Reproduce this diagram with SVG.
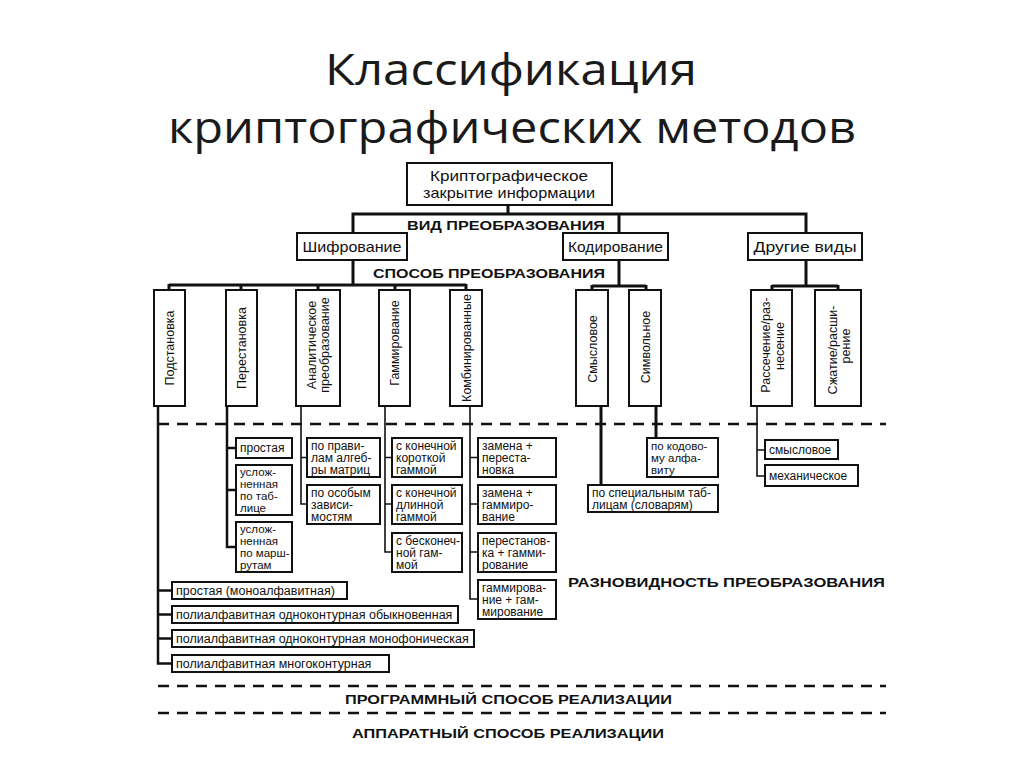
<svg xmlns="http://www.w3.org/2000/svg" width="1024" height="767" viewBox="0 0 1024 767">
<style>
.bx{fill:#fff;stroke:#111;stroke-width:2}
.t{font-family:"Liberation Sans",Arial,sans-serif;fill:#111}
.m{font-size:14.5px;text-anchor:middle}
.v{font-size:12.5px;text-anchor:middle}
.s{font-size:12px}
.q{font-size:11.5px}
.l{font-size:12.5px}
.h{font-family:"Liberation Sans",Arial,sans-serif;font-weight:bold;font-size:13.5px;fill:#111;text-anchor:middle}
.ttl{font-family:"Open Sans","Liberation Sans",sans-serif;font-size:44px;fill:#1a1a1a;text-anchor:middle}
.c{fill:none;stroke:#111;stroke-width:3}
.c2{fill:none;stroke:#111;stroke-width:2.5}
.c1{fill:none;stroke:#111;stroke-width:1.6}
.d{fill:none;stroke:#111;stroke-width:2.5;stroke-dasharray:11 8}
</style>
<rect width="1024" height="767" fill="#fff"/>
<g id="title">
<text class="ttl" x="511" y="85" textLength="372" lengthAdjust="spacingAndGlyphs">Классификация</text>
<text class="ttl" x="512" y="143" textLength="688" lengthAdjust="spacingAndGlyphs">криптографических методов</text>
</g>
<g id="connectors">
<path class="c" d="M508 205V214M353 214H806M353 212.5V233M619 212.5V233M806 212.5V233"/>
<path class="c" d="M353 261V285M169 285H466M169 284V290M241 284V290M318 284V290M395 284V290M466 284V290"/>
<path class="c" d="M619 260V286M592 286H646M592 285V290M646 285V290"/>
<path class="c" d="M806 260V286M772 286H838M772 285V290M838 285V290"/>
<path class="c2" d="M158 406V663.5H172M158 590.5H172M158 614.5H172M158 638.5H172"/>
<path class="c2" d="M227 406V547H236M227 448H236M227 490H236"/>
<path class="c1" d="M301 406V504H307M301 457.5H307"/>
<path class="c1" d="M385 406V552H392M385 457.5H392M385 504H392"/>
<path class="c1" d="M470 406V599H478M470 457.5H478M470 504H478M470 552H478"/>
<path class="c" d="M601 406V485M656 406V438"/>
<path class="c1" d="M757 406V476H765M757 450H765"/>
<path class="d" d="M158 424H886M158 686H886M158 713H886"/>
</g>
<g id="root"><rect class="bx" x="407" y="163" width="205" height="42"/>
<text class="t m" x="509" y="181" textLength="158" lengthAdjust="spacingAndGlyphs">Криптографическое</text><text class="t m" x="509" y="198" textLength="172" lengthAdjust="spacingAndGlyphs">закрытие информации</text></g>
<g id="lbl-vid"><text class="h" x="506" y="229.5" textLength="198" lengthAdjust="spacingAndGlyphs">ВИД ПРЕОБРАЗОВАНИЯ</text></g>
<g id="shifr"><rect class="bx" x="297" y="233" width="110" height="27"/><text class="t m" x="352" y="251.5" textLength="99" lengthAdjust="spacingAndGlyphs">Шифрование</text></g>
<g id="kodir"><rect class="bx" x="563" y="233" width="105" height="27"/><text class="t m" x="615.5" y="251.5" textLength="95" lengthAdjust="spacingAndGlyphs">Кодирование</text></g>
<g id="drugie"><rect class="bx" x="748" y="233" width="114" height="27"/><text class="t m" x="805" y="251.5" textLength="103" lengthAdjust="spacingAndGlyphs">Другие виды</text></g>
<g id="lbl-sposob"><text class="h" x="489" y="278" textLength="232" lengthAdjust="spacingAndGlyphs">СПОСОБ ПРЕОБРАЗОВАНИЯ</text></g>
<g id="podst"><rect class="bx" x="154" y="290" width="31" height="116"/><text class="t v" transform="translate(169.5 348) rotate(-90)" y="4.5">Подстановка</text></g>
<g id="perest"><rect class="bx" x="226" y="290" width="31" height="116"/><text class="t v" transform="translate(241.5 348) rotate(-90)" y="4.5">Перестановка</text></g>
<g id="analit"><rect class="bx" x="296" y="290" width="44" height="116"/><text class="t v" transform="translate(318 345) rotate(-90)" y="-2.5">Аналитическое</text><text class="t v" transform="translate(318 345) rotate(-90)" y="11">преобразование</text></g>
<g id="gamm"><rect class="bx" x="379" y="290" width="31" height="116"/><text class="t v" transform="translate(394.5 343) rotate(-90)" y="4.5">Гаммирование</text></g>
<g id="komb"><rect class="bx" x="450" y="290" width="32" height="116"/><text class="t v" transform="translate(466 348) rotate(-90)" y="4.5">Комбинированные</text></g>
<g id="smysl"><rect class="bx" x="576" y="290" width="32" height="116"/><text class="t v" transform="translate(592 349) rotate(-90)" y="4.5">Смысловое</text></g>
<g id="simv"><rect class="bx" x="629" y="290" width="32" height="116"/><text class="t v" transform="translate(645 347) rotate(-90)" y="4.5">Символьное</text></g>
<g id="rassech"><rect class="bx" x="751" y="290" width="41" height="116"/><text class="t v" transform="translate(771.5 345) rotate(-90)" y="-1.5">Рассечение/раз-</text><text class="t v" transform="translate(771.5 346) rotate(-90)" y="12">несение</text></g>
<g id="szhat"><rect class="bx" x="815" y="290" width="46" height="116"/><text class="t v" transform="translate(838 350) rotate(-90)" y="-1.5">Сжатие/расши-</text><text class="t v" transform="translate(838 346) rotate(-90)" y="12">рение</text></g>
<g id="p-prost"><rect class="bx" x="236" y="438" width="56" height="20"/><text class="t s" x="240" y="452">простая</text></g>
<g id="p-tabl"><rect class="bx" x="236" y="465" width="56" height="50"/><text class="t q" x="240" y="476">услож-</text><text class="t q" x="240" y="488">ненная</text><text class="t q" x="240" y="500">по таб-</text><text class="t q" x="240" y="512">лице</text></g>
<g id="p-marsh"><rect class="bx" x="236" y="522" width="56" height="50"/><text class="t q" x="240" y="533">услож-</text><text class="t q" x="240" y="545">ненная</text><text class="t q" x="240" y="557">по марш-</text><text class="t q" x="240" y="569">рутам</text></g>
<g id="a-matr"><rect class="bx" x="307" y="438" width="73" height="39"/><text class="t s" x="311" y="449.5">по прави-</text><text class="t s" x="311" y="461.5">лам алгеб-</text><text class="t s" x="311" y="473.5">ры матриц</text></g>
<g id="a-zav"><rect class="bx" x="307" y="485" width="73" height="39"/><text class="t s" x="311" y="496.5">по особым</text><text class="t s" x="311" y="508.5">зависи-</text><text class="t s" x="311" y="520.5">мостям</text></g>
<g id="g-korot"><rect class="bx" x="392" y="438" width="70" height="39"/><text class="t s" x="396" y="449.5">с конечной</text><text class="t s" x="396" y="461.5">короткой</text><text class="t s" x="396" y="473.5">гаммой</text></g>
<g id="g-dlin"><rect class="bx" x="392" y="485" width="70" height="39"/><text class="t s" x="396" y="496.5">с конечной</text><text class="t s" x="396" y="508.5">длинной</text><text class="t s" x="396" y="520.5">гаммой</text></g>
<g id="g-besk"><rect class="bx" x="392" y="533" width="70" height="39"/><text class="t s" x="396" y="544.5">с бесконеч-</text><text class="t s" x="396" y="556.5">ной гам-</text><text class="t s" x="396" y="568.5">мой</text></g>
<g id="k-zp"><rect class="bx" x="478" y="438" width="78" height="39"/><text class="t s" x="482" y="449.5">замена +</text><text class="t s" x="482" y="461.5">переста-</text><text class="t s" x="482" y="473.5">новка</text></g>
<g id="k-zg"><rect class="bx" x="478" y="485" width="78" height="39"/><text class="t s" x="482" y="496.5">замена +</text><text class="t s" x="482" y="508.5">гаммиро-</text><text class="t s" x="482" y="520.5">вание</text></g>
<g id="k-pg"><rect class="bx" x="478" y="533" width="78" height="39"/><text class="t s" x="482" y="544.5">перестанов-</text><text class="t s" x="482" y="556.5">ка + гамми-</text><text class="t s" x="482" y="568.5">рование</text></g>
<g id="k-gg"><rect class="bx" x="478" y="580" width="78" height="39"/><text class="t s" x="482" y="591.5">гаммирова-</text><text class="t s" x="482" y="603.5">ние + гам-</text><text class="t s" x="482" y="615.5">мирование</text></g>
<g id="s-slov"><rect class="bx" x="588" y="485" width="130" height="27"/><text class="t s" x="592" y="496.5">по специальным таб-</text><text class="t s" x="592" y="508.5">лицам (словарям)</text></g>
<g id="c-alf"><rect class="bx" x="647" y="438" width="71" height="39"/><text class="t q" x="651" y="449.5">по кодово-</text><text class="t q" x="651" y="461.5">му алфа-</text><text class="t q" x="651" y="473.5">виту</text></g>
<g id="r-smysl"><rect class="bx" x="765" y="440" width="73" height="19"/><text class="t s" x="769" y="453.5">смысловое</text></g>
<g id="r-mech"><rect class="bx" x="765" y="465" width="93" height="21"/><text class="t s" x="769" y="479.5">механическое</text></g>
<g id="pd-1"><rect class="bx" x="172" y="582" width="175" height="17"/><text class="t l" x="176" y="594.5">простая (моноалфавитная)</text></g>
<g id="pd-2"><rect class="bx" x="172" y="606" width="286" height="17"/><text class="t l" x="176" y="618.5">полиалфавитная одноконтурная обыкновенная</text></g>
<g id="pd-3"><rect class="bx" x="172" y="630" width="302" height="17"/><text class="t l" x="176" y="642.5">полиалфавитная одноконтурная монофоническая</text></g>
<g id="pd-4"><rect class="bx" x="172" y="655" width="217" height="17"/><text class="t l" x="176" y="667.5">полиалфавитная многоконтурная</text></g>
<g id="lbl-razn"><text class="h" x="726.5" y="587" font-size="14" textLength="317" lengthAdjust="spacingAndGlyphs">РАЗНОВИДНОСТЬ ПРЕОБРАЗОВАНИЯ</text></g>
<g id="lbl-prog"><text class="h" x="508.5" y="703.5" textLength="327" lengthAdjust="spacingAndGlyphs">ПРОГРАММНЫЙ СПОСОБ РЕАЛИЗАЦИИ</text></g>
<g id="lbl-app"><text class="h" x="508" y="737.5" textLength="312" lengthAdjust="spacingAndGlyphs">АППАРАТНЫЙ СПОСОБ РЕАЛИЗАЦИИ</text></g>
</svg>
